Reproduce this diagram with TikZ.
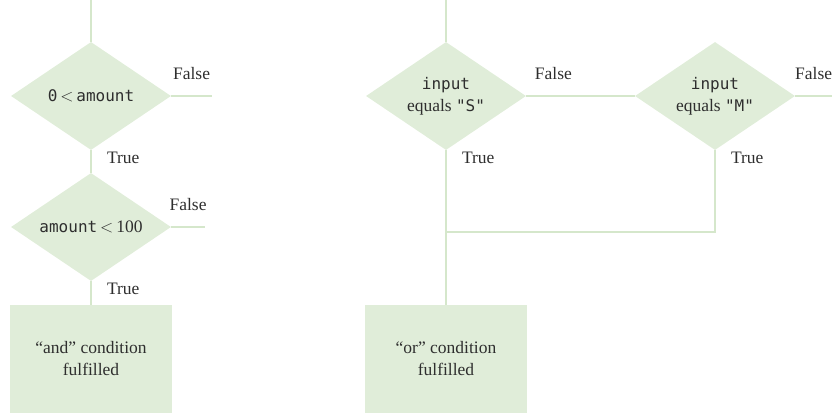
\documentclass[tikz,border=0pt]{standalone}
\usepackage{fontspec}
\setmainfont{Liberation Serif}
\newfontfamily\mono{DejaVu Sans Mono}
\usetikzlibrary{shapes.geometric}
\definecolor{boxgreen}{HTML}{E0EDD9}
\definecolor{linegreen}{HTML}{D5E7CB}
\definecolor{textgray}{HTML}{2E2E2E}
\newcommand\prog[1]{{\mono\fontsize{16}{22}\selectfont #1}}

\begin{document}
\begin{tikzpicture}[x=1pt, y=-1pt, font=\fontsize{17.5}{22}\selectfont, text=textgray,
    test/.style={diamond, aspect=1.5, fill=boxgreen, inner sep=0pt, minimum width=160pt, minimum height=108pt, align=center},
    action/.style={rectangle, fill=boxgreen, minimum width=162pt, minimum height=108pt, align=center},
    flow/.style={draw=linegreen, line width=2pt},
    no/.style={above, inner sep=0pt, yshift=15pt},
    yes/.style={anchor=north west, pos=0, inner sep=0pt, xshift=15pt, yshift=-1pt}]
  % \draw[step=50,thin,gray!40] (0,0) grid (832,414);
  \useasboundingbox (0,0) rectangle (832,414);

  % "and": two tests one after the other
  \coordinate (topA) at (91,0);
  \coordinate (falseA) at (212,96);
  \coordinate (falseB) at (205,227);
  \node[test] (lowTest) at (91,96) {\prog{0}\,$<$\,\prog{amount}};
  \node[test] (highTest) at (91,227) {\prog{amount}\,$<$\,100};
  \node[action] (andBox) at (91,359) {``and'' condition\\fulfilled};

  \draw[flow] (topA) -- (lowTest.north);
  \draw[flow] (lowTest.east) -- (falseA) node[no,midway] {False};
  \draw[flow] (lowTest.south) -- (highTest.north) node[yes] {True};
  \draw[flow] (highTest.east) -- (falseB) node[no,midway] {False};
  \draw[flow] (highTest.south) -- (andBox.north) node[yes] {True};

  % "or": two tests side by side
  \coordinate (topO) at (446,0);
  \coordinate (falseM) at (832,96);
  \coordinate (join) at (446,232);
  \node[test] (sTest) at (446,96) {\prog{input}\\equals \prog{"S"}};
  \node[test] (mTest) at (715,96) {\prog{input}\\equals \prog{"M"}};
  \node[action] (orBox) at (446,359) {``or'' condition\\fulfilled};

  \draw[flow] (topO) -- (sTest.north);
  \draw[flow] (sTest.east) -- (mTest.west) node[no,pos=0.25] {False};
  \draw[flow] (mTest.east) -- (falseM) node[no,midway] {False};
  \draw[flow] (sTest.south) -- (orBox.north) node[yes] {True};
  \draw[flow] (mTest.south) -- (mTest.south |- join) node[yes] {True} -- (join);
\end{tikzpicture}
\end{document}
